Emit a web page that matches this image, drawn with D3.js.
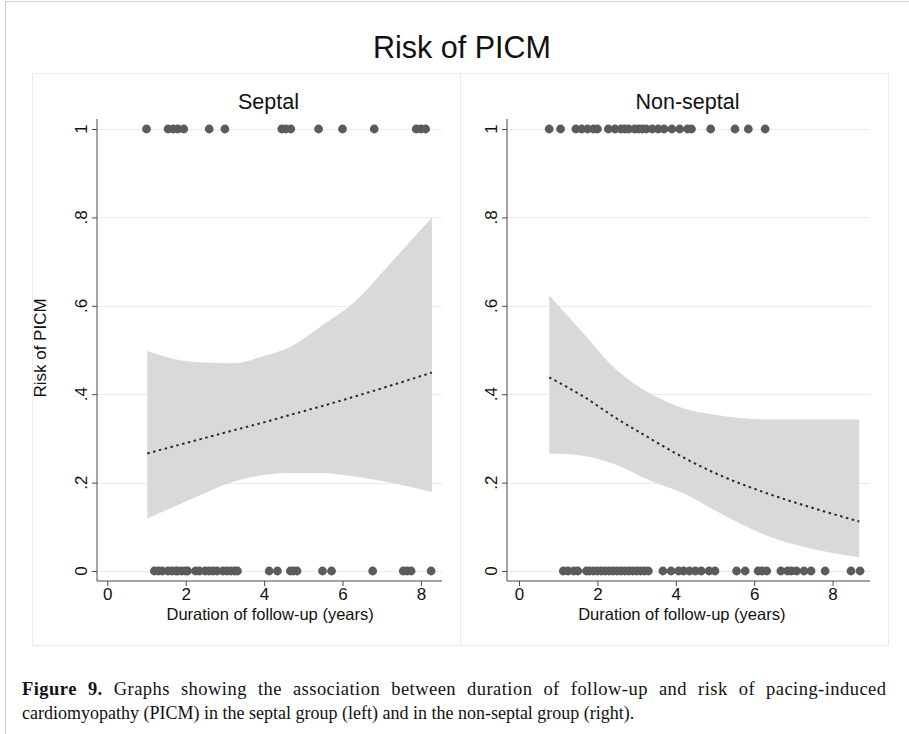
<!DOCTYPE html>
<html>
<head>
<meta charset="utf-8">
<script src="https://d3js.org/d3.v7.min.js"></script>
<style>
  body { margin: 0; background: #fff; }
  svg text { font-family: "Liberation Sans", Arial, sans-serif; fill: #111; }
  .cap { font-family: "Liberation Serif", "Times New Roman", serif; fill: #111; }
</style>
</head>
<body>
<script>
// ---- data ----
var yTicks = [0, 0.2, 0.4, 0.6, 0.8, 1];
var yTickLabels = ["0", ".2", ".4", ".6", ".8", "1"];
var xTicks = [0, 2, 4, 6, 8];

// septal group: follow-up years of patients with / without PICM
var septalEvent = [1.0, 1.55, 1.68, 1.8, 1.95, 2.6, 3.0, 4.45, 4.55, 4.68, 5.39, 6.0, 6.81, 7.88, 8.0, 8.12];
var septalNone = [1.2, 1.3, 1.4, 1.55, 1.65, 1.75, 1.8, 1.9, 2.0, 2.05, 2.25, 2.35, 2.5, 2.6, 2.7, 2.8,
                  2.95, 3.05, 3.15, 3.25, 3.32, 4.13, 4.34, 4.67, 4.75, 4.84, 5.49, 5.72, 6.77, 7.55,
                  7.65, 7.75, 8.26];
// fitted probability and 95% CI, septal
var septalX =     [1.02, 2.11, 3.21, 3.98, 4.66, 5.51, 6.36, 7.21, 8.28];
var septalFit =   [0.266, 0.292, 0.318, 0.336, 0.353, 0.374, 0.396, 0.419, 0.449];
var septalLower = [0.119, 0.161, 0.202, 0.217, 0.222, 0.222, 0.213, 0.200, 0.179];
var septalUpper = [0.498, 0.474, 0.470, 0.486, 0.507, 0.557, 0.613, 0.695, 0.800];

// non-septal group
var nonsepEvent = [0.77, 1.06, 1.45, 1.6, 1.75, 1.9, 2.0, 2.28, 2.45, 2.6, 2.7, 2.8, 2.95, 3.05, 3.15,
                   3.25, 3.4, 3.55, 3.7, 3.9, 4.1, 4.3, 4.4, 4.89, 5.51, 5.85, 6.28];
var nonsepNone = [1.13, 1.25, 1.4, 1.5, 1.72, 1.8, 1.9, 2.0, 2.1, 2.2, 2.3, 2.4, 2.5, 2.6, 2.7, 2.8,
                  2.9, 3.0, 3.1, 3.2, 3.3, 3.67, 3.88, 4.07, 4.2, 4.35, 4.5, 4.65, 4.85, 5.0, 5.55,
                  5.77, 6.1, 6.2, 6.32, 6.68, 6.85, 6.95, 7.08, 7.27, 7.45, 7.81, 8.47, 8.7];
var nonsepX =     [0.77, 1.64, 2.49, 3.34, 4.19, 5.04, 6.32, 7.59, 8.68];
var nonsepFit =   [0.438, 0.395, 0.345, 0.300, 0.257, 0.220, 0.176, 0.140, 0.112];
var nonsepLower = [0.266, 0.261, 0.240, 0.205, 0.176, 0.135, 0.080, 0.048, 0.031];
var nonsepUpper = [0.624, 0.538, 0.455, 0.402, 0.368, 0.353, 0.343, 0.343, 0.343];

var panelTitles = ["Septal", "Non-septal"];

var W = 909, H = 734;
var svg = d3.select("body").append("svg").attr("width", W).attr("height", H);

// figure border (top + left) and chart frame
svg.append("line").attr("x1", 5).attr("x2", W).attr("y1", 1.5).attr("y2", 1.5).attr("stroke", "#cfcfcf");
svg.append("line").attr("x1", 5.5).attr("x2", 5.5).attr("y1", 1).attr("y2", H).attr("stroke", "#cfcfcf");
svg.append("rect").attr("x", 32.5).attr("y", 73.5).attr("width", 428).attr("height", 572)
  .attr("fill", "none").attr("stroke", "#ececec");
svg.append("rect").attr("x", 460.5).attr("y", 73.5).attr("width", 428).attr("height", 572)
  .attr("fill", "none").attr("stroke", "#ececec");

svg.append("text").attr("x", 462).attr("y", 58).attr("text-anchor", "middle")
  .style("font-size", "30.5px").text("Risk of PICM");

var y = d3.scaleLinear().domain([0, 1]).range([571, 129]);

var panels = [
  { title: panelTitles[0], ax: 97, x0: 107.3, xEnd: 442, ev: septalEvent, no: septalNone,
    xs: septalX, fit: septalFit, lo: septalLower, hi: septalUpper, ylab: true },
  { title: panelTitles[1], ax: 507, x0: 519, xEnd: 870, ev: nonsepEvent, no: nonsepNone,
    xs: nonsepX, fit: nonsepFit, lo: nonsepLower, hi: nonsepUpper, ylab: false }
];

panels.forEach(function(p) {
  var g = svg.append("g");
  var x = d3.scaleLinear().domain([0, 8]).range([p.x0, p.x0 + 8 * 39.2]);
  var cx = (p.ax + p.xEnd) / 2;

  g.append("text").attr("x", cx - 1).attr("y", 109).attr("text-anchor", "middle")
    .style("font-size", "21.5px").text(p.title);

  // gridlines
  g.selectAll(".grid").data(yTicks).enter().append("line")
    .attr("x1", p.ax).attr("x2", p.xEnd)
    .attr("y1", function(d) { return Math.round(y(d)) + 0.5; })
    .attr("y2", function(d) { return Math.round(y(d)) + 0.5; })
    .attr("stroke", "#ebebeb").attr("stroke-width", 1.2);

  // CI band
  var band = p.xs.map(function(v, i) { return { x: v, lo: p.lo[i], hi: p.hi[i] }; });
  g.append("path")
    .attr("d", d3.area().x(function(d) { return x(d.x); })
      .y0(function(d) { return y(d.lo); }).y1(function(d) { return y(d.hi); })
      .curve(d3.curveMonotoneX)(band))
    .attr("fill", "#d9d9d9");

  // fitted line
  var fit = p.xs.map(function(v, i) { return { x: v, y: p.fit[i] }; });
  g.append("path")
    .attr("d", d3.line().x(function(d) { return x(d.x); }).y(function(d) { return y(d.y); })
      .curve(d3.curveMonotoneX)(fit))
    .attr("fill", "none").attr("stroke", "#2b2b2b").attr("stroke-width", 2)
    .attr("stroke-dasharray", "2.5,3.5");

  // observed outcomes
  g.selectAll(".ev").data(p.ev).enter().append("circle")
    .attr("cx", function(d) { return x(d); }).attr("cy", y(1)).attr("r", 4.4).attr("fill", "#5b5b5b");
  g.selectAll(".no").data(p.no).enter().append("circle")
    .attr("cx", function(d) { return x(d); }).attr("cy", y(0)).attr("r", 4.4).attr("fill", "#5b5b5b");

  // axes
  var yAxis = d3.axisLeft(y).tickValues(yTicks).tickSize(5)
    .tickFormat(function(d, i) { return yTickLabels[i]; });
  var ya = g.append("g").attr("transform", "translate(" + p.ax + ",0)").call(yAxis);
  ya.select(".domain").attr("d", "M0,119V581");
  ya.selectAll("text").remove();
  g.selectAll(".ylbl").data(yTicks).enter().append("text")
    .attr("transform", function(d) { return "translate(" + (p.ax - 10) + "," + y(d) + ") rotate(-90)"; })
    .attr("text-anchor", "middle").style("font-size", "17px")
    .text(function(d, i) { return yTickLabels[i]; });

  var xAxis = d3.axisBottom(x).tickValues(xTicks).tickSize(5).tickFormat(d3.format("d"));
  var xa = g.append("g").attr("transform", "translate(0,581)").call(xAxis);
  xa.select(".domain").attr("d", "M" + p.ax + ",0H" + p.xEnd);
  xa.selectAll("text").style("font-size", "17px").attr("y", 7).attr("fill", "#111");
  [ya, xa].forEach(function(a) {
    a.selectAll("line,path").attr("stroke", "#4a4a4a");
  });

  g.append("text").attr("x", x(4) + 6).attr("y", 620).attr("text-anchor", "middle")
    .style("font-size", "16.5px").text("Duration of follow-up (years)");

  if (p.ylab) {
    g.append("text").attr("transform", "translate(46,348) rotate(-90)")
      .attr("text-anchor", "middle").style("font-size", "17px").text("Risk of PICM");
  }
});

// caption (first line justified to the column width)
var cap = svg.append("text").attr("class", "cap").attr("x", 22).attr("y", 695)
  .style("font-size", "18.5px").style("word-spacing", "6px")
  .attr("textLength", 864).attr("lengthAdjust", "spacing");
cap.append("tspan").attr("font-weight", "bold").text("Figure 9.");
cap.append("tspan").text(" Graphs showing the association between duration of follow-up and risk of pacing-induced");
svg.append("text").attr("class", "cap").attr("x", 22).attr("y", 719).style("font-size", "18px")
  .text("cardiomyopathy (PICM) in the septal group (left) and in the non-septal group (right).");
</script>
</body>
</html>
